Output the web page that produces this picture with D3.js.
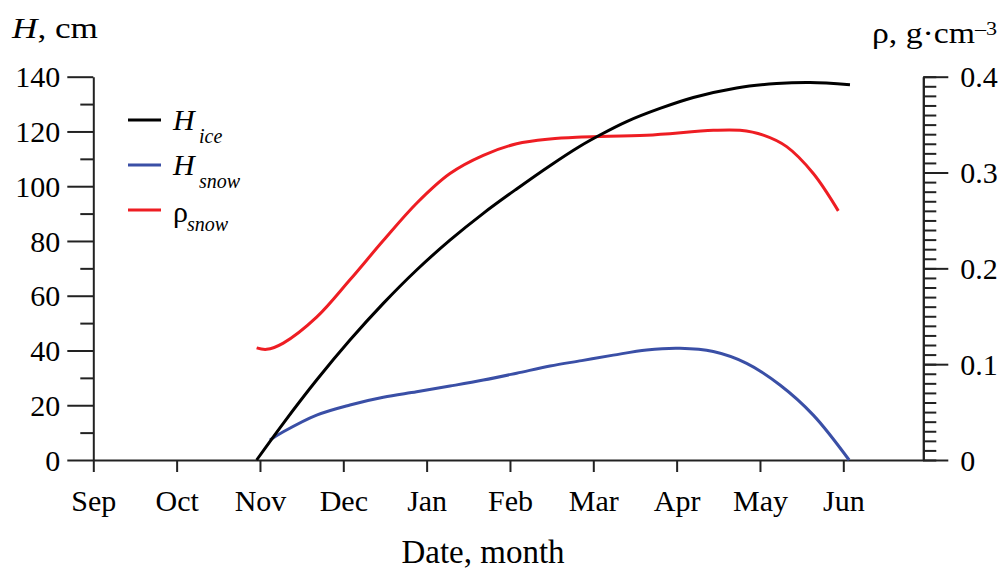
<!DOCTYPE html>
<html>
<head>
<meta charset="utf-8">
<script src="https://cdn.jsdelivr.net/npm/d3@7"></script>
</head>
<body style="margin:0;background:#fff">
<svg id="chart" width="1005" height="569"></svg>
<script>
// Month tick labels (index 0 = 1 Sep)
const months = ["Sep", "Oct", "Nov", "Dec", "Jan", "Feb", "Mar", "Apr", "May", "Jun"];

// Ice thickness, cm (time in months since 1 Sep)
const iceT = [1.96, 2.28, 2.68, 3.08, 3.48, 3.88, 4.28, 4.68, 5.08, 5.48, 5.84, 6.08, 6.40, 6.80, 7.20, 7.72, 8.20, 8.60, 9.08];
const iceH = [0, 13.4, 29.2, 43.8, 57.2, 69.4, 80.3, 90.1, 99.0, 107.5, 114.6, 118.7, 123.6, 128.4, 132.4, 135.9, 137.5, 137.9, 137.1];

// Snow thickness, cm
const snowT = [2.12, 2.28, 2.68, 3.08, 3.48, 3.88, 4.28, 4.68, 5.08, 5.48, 5.86, 6.24, 6.64, 7.04, 7.44, 7.84, 8.24, 8.64, 9.07];
const snowH = [7.3, 10.3, 16.4, 20.1, 22.9, 24.9, 27.0, 29.2, 31.7, 34.3, 36.3, 38.3, 40.2, 40.8, 39.6, 35.3, 27.4, 16.4, 0];

// Snow density, g/cm^3
const rhoT = [1.96, 2.08, 2.28, 2.68, 3.08, 3.48, 3.88, 4.28, 4.68, 5.08, 5.48, 5.86, 6.64, 7.44, 7.76, 8.04, 8.32, 8.64, 8.94];
const rho  = [0.117, 0.1155, 0.122, 0.149, 0.188, 0.229, 0.268, 0.299, 0.318, 0.330, 0.335, 0.337, 0.339, 0.344, 0.344, 0.339, 0.327, 0.299, 0.260];

// Axis tick values
const hTicks = [0, 20, 40, 60, 80, 100, 120, 140];
const rhoTicks = [0, 0.1, 0.2, 0.3, 0.4];

const FONT = "Liberation Serif";
const svg = d3.select("#chart");

const x = d3.scaleLinear().domain([0, 9.96]).range([93.3, 923.3]);
const yH = d3.scaleLinear().domain([0, 140]).range([460, 76.7]);
const yR = d3.scaleLinear().domain([0, 0.4]).range([460, 76.7]);

const axisColor = "#222";

// ---- Left axis: minor ticks every 10, labelled major every 20
svg.append("g").attr("transform", `translate(${x.range()[0]},0)`)
  .call(d3.axisLeft(yH).tickValues(d3.range(10, 140, 20)).tickSize(13).tickFormat(""))
  .call(g => g.select(".domain").remove());
const leftMajor = svg.append("g").attr("transform", `translate(${x.range()[0]},0)`)
  .call(d3.axisLeft(yH).tickValues(hTicks).tickSize(26).tickSizeOuter(0).tickPadding(7).tickFormat(d3.format("d")));
leftMajor.selectAll("text").attr("dy", "0.34em");

// ---- Right axis: minor ticks every 0.01
svg.append("g").attr("transform", `translate(${x.range()[1]},0)`)
  .call(d3.axisRight(yR).tickValues(d3.range(0, 41).map(i => i / 100)).tickSize(13).tickSizeOuter(0).tickFormat(""));
const rightMajor = svg.append("g").attr("transform", `translate(${x.range()[1]},0)`)
  .call(d3.axisRight(yR).tickValues(rhoTicks).tickSize(25).tickSizeOuter(0).tickPadding(12)
    .tickFormat(d => d === 0 ? "0" : d3.format(".1f")(d)));
rightMajor.selectAll("text").attr("dy", "0.34em");

// ---- Bottom axis
const bottom = svg.append("g").attr("transform", `translate(0,${yH(0)})`)
  .call(d3.axisBottom(x).tickValues(d3.range(months.length)).tickSize(12).tickSizeOuter(0).tickPadding(18)
    .tickFormat(i => months[i]));
bottom.selectAll("text").attr("dy", "0.71em");

svg.selectAll("g").attr("font-family", null);
svg.selectAll(".domain, .tick line").attr("stroke", axisColor).attr("stroke-width", 2);
svg.selectAll(".tick text").attr("fill", "#000").style("font-family", FONT).style("font-size", "30px");

// ---- Curves
const lineH = d3.line().x(d => x(d[0])).y(d => yH(d[1])).curve(d3.curveCatmullRom.alpha(0.5));
const lineR = d3.line().x(d => x(d[0])).y(d => yR(d[1])).curve(d3.curveCatmullRom.alpha(0.5));

const colIce = "#000000", colSnow = "#3a4fa6", colRho = "#ee1d23";

svg.append("path").datum(d3.zip(rhoT, rho)).attr("d", lineR)
  .attr("fill", "none").attr("stroke", colRho).attr("stroke-width", 3);
svg.append("path").datum(d3.zip(snowT, snowH)).attr("d", lineH)
  .attr("fill", "none").attr("stroke", colSnow).attr("stroke-width", 3);
svg.append("path").datum(d3.zip(iceT, iceH)).attr("d", lineH)
  .attr("fill", "none").attr("stroke", colIce).attr("stroke-width", 3);

// ---- Legend
const legend = [
  { main: "H", sub: "ice", color: colIce, y: 120, italic: true },
  { main: "H", sub: "snow", color: colSnow, y: 165, italic: true },
  { main: "ρ", sub: "snow", color: colRho, y: 210, italic: false }
];
const lg = svg.append("g");
legend.forEach(d => {
  lg.append("line").attr("x1", 128).attr("x2", 161).attr("y1", d.y).attr("y2", d.y)
    .attr("stroke", d.color).attr("stroke-width", 3);
  lg.append("text").attr("x", 173).attr("y", d.y + (d.italic ? 10 : 12))
    .style("font-family", FONT).style("font-size", "30px")
    .style("font-style", d.italic ? "italic" : "normal").text(d.main);
  lg.append("text").attr("x", d.italic ? 199 : 187).attr("y", d.y + (d.italic ? 23 : 21))
    .style("font-family", FONT).style("font-size", "20px").style("font-style", "italic").text(d.sub);
});

// ---- Axis titles (set wide, as in the original layout)
const tL = svg.append("text").attr("x", 12).attr("y", 38)
  .attr("textLength", 86).attr("lengthAdjust", "spacingAndGlyphs")
  .style("font-family", FONT).style("font-size", "29px");
tL.append("tspan").style("font-style", "italic").text("H");
tL.append("tspan").text(", cm");

const tR = svg.append("text").attr("x", 872).attr("y", 43)
  .attr("textLength", 125).attr("lengthAdjust", "spacingAndGlyphs")
  .style("font-family", FONT).style("font-size", "29px");
tR.append("tspan").text("ρ, g·cm");
tR.append("tspan").attr("dy", -8).style("font-size", "19px").text("–3");

svg.append("text").attr("x", 483).attr("y", 563).attr("text-anchor", "middle")
  .style("font-family", FONT).style("font-size", "33px").text("Date, month");
</script>
</body>
</html>
